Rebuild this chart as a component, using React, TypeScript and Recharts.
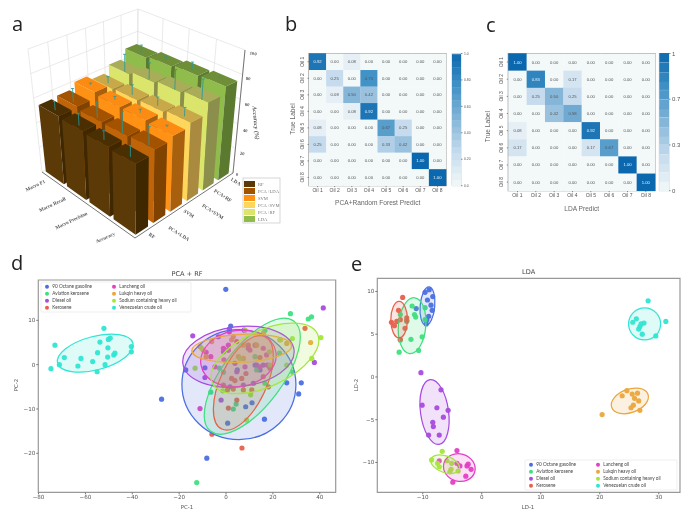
import { ReactNode } from 'react';
import { ReferenceArea, ReferenceLine, Scatter, ScatterChart, XAxis, YAxis } from 'recharts';

type Pt = [number, number];
type Ell = { x: number; y: number; rx: number; ry: number; angle: number };

const W = 690;
const H = 522;

// panel a
const metricNames = ['Macro F1', 'Macro Recall', 'Macro Precision', 'Accuracy'];
const methodNames = ['RF', 'PCA+LDA', 'SVM', 'PCA+SVM', 'PCA+RF', 'LDA'];
const rfScores = [54, 53, 52, 51];
const pcaLdaScores = [55, 53, 53, 54];
const svmScores = [60, 58, 58, 57];
const pcaSvmScores = [56, 57, 58, 60];
const pcaRfScores = [62, 65, 67, 69];
const ldaScores = [70, 72, 74, 75];
const rfErrors = [5, 7, 5, 6];
const pcaLdaErrors = [8, 9, 12, 10];
const svmErrors = [1, 2, 2, 1];
const pcaSvmErrors = [4, 6, 5, 5];
const pcaRfErrors = [11, 10, 12, 12];
const ldaErrors = [5, 2, 5, 1];
const accuracyTicks = [0, 20, 40, 60, 80, 100];

const allScores = [rfScores, pcaLdaScores, svmScores, pcaSvmScores, pcaRfScores, ldaScores];
const allErrors = [rfErrors, pcaLdaErrors, svmErrors, pcaSvmErrors, pcaRfErrors, ldaErrors];

// left, right, top faces
const BAR_COLORS = [
  ['#5c3a08', '#3f2700', '#4a2f02'],
  ['#bf6408', '#7f4200', '#a35300'],
  ['#ff9214', '#a8600f', '#fb8b12'],
  ['#ffd65c', '#a98a3e', '#c9a84a'],
  ['#dbe56c', '#8c8f4c', '#a9ac58'],
  ['#8fbc4a', '#5b7a2f', '#6f8e38'],
];

// panels b, c
const oilLabels = ['Oil 1', 'Oil 2', 'Oil 3', 'Oil 4', 'Oil 5', 'Oil 6', 'Oil 7', 'Oil 8'];
const pcaRfMatrix = [
  [0.92, 0, 0.08, 0, 0, 0, 0, 0],
  [0, 0.25, 0, 0.75, 0, 0, 0, 0],
  [0, 0.08, 0.5, 0.42, 0, 0, 0, 0],
  [0, 0, 0.08, 0.92, 0, 0, 0, 0],
  [0.08, 0, 0, 0, 0.67, 0.25, 0, 0],
  [0.25, 0, 0, 0, 0.33, 0.42, 0, 0],
  [0, 0, 0, 0, 0, 0, 1, 0],
  [0, 0, 0, 0, 0, 0, 0, 1],
];
const ldaMatrix = [
  [1, 0, 0, 0, 0, 0, 0, 0],
  [0, 0.83, 0, 0.17, 0, 0, 0, 0],
  [0, 0.25, 0.5, 0.25, 0, 0, 0, 0],
  [0, 0, 0.42, 0.58, 0, 0, 0, 0],
  [0.08, 0, 0, 0, 0.92, 0, 0, 0],
  [0.17, 0, 0, 0, 0.17, 0.67, 0, 0],
  [0, 0, 0, 0, 0, 0, 1, 0],
  [0, 0, 0, 0, 0, 0, 0, 1],
];
const barLevelsB = [0.02, 0.07, 0.12, 0.17, 0.22, 0.27, 0.32, 0.37, 0.42, 0.47, 0.52, 0.57, 0.62, 0.67, 0.72, 0.77, 0.82, 0.87, 0.92, 0.97];
const barLevelsC = [0.03, 0.1, 0.17, 0.23, 0.3, 0.37, 0.43, 0.5, 0.57, 0.63, 0.7, 0.77, 0.83, 0.9, 0.97];

// panels d, e
const classNames = ['90 Octane gasoline', 'Aviation kerosene', 'Diesel oil', 'Kerosene', 'Lancheng oil', 'Lukqin heavy oil', 'Sodium containing heavy oil', 'Venezuelan crude oil'];
const CLASS_COLORS = ['#4a6fe3', '#3fe07f', '#a94be0', '#e8604c', '#e43fc6', '#eba63c', '#a5e63c', '#2fe6d2'];

const pcaGasoline: Pt[] = [[-0.1, 17], [2, 8.7], [-17.2, -1.2], [-9, -0.7], [-27.5, -7.8], [0.7, -13.2], [8.4, -9.5], [11.1, -8.6], [16.4, -12.3], [-8.2, -21.1], [25.9, -4.1], [32.1, -4.1], [31, -6.6], [4.8, -1.2], [11.7, -4.2], [14.5, -1.2], [12.4, -0.1], [1.7, -5]];
const pcaAviation: Pt[] = [[-12.5, -26.6], [27.5, 11.5], [36.5, 10.8], [35.1, 10.3], [-6.5, -6.2], [4.3, -8.9], [3.1, -10], [16.6, -4.2], [28.5, -1.7], [16.6, 7.7], [-2.8, -0.8], [-1.1, -1.7], [13.1, -1.2], [12.4, 1.8], [22.8, 2.6]];
const pcaDiesel: Pt[] = [[-14.2, 6.5], [41.5, 12.8], [37.7, 0.5], [-9, -2.9], [-2.1, -8], [-3.3, 6.3], [1.4, 8], [7.7, 7.8], [1, 3.3], [-1.1, 2.9], [13.1, -0.1], [4.6, -1.6], [15.9, -0.1], [7.4, -4.6]];
const pcaKerosene: Pt[] = [[6.8, -18.8], [-6, -15.7], [33.7, 8.2], [1, -9.8], [4.6, -8], [18.1, -5], [2.4, -3.1], [3.8, -3.6], [6.7, -3.1], [7.4, -5.7], [11, -5.7], [8.5, -2], [15.9, -2.7], [14.5, 1.6], [12.4, 4.4], [4.6, 5.2], [9.5, 4.4], [0.6, -5.7], [3.1, -5.5], [18.8, -0.8], [-1.1, -4.6]];
const pcaLancheng: Pt[] = [[-11.1, -9.9], [1.4, 7.4], [-1.1, 3.7], [9.5, 3.7], [10.2, 3.3], [15.9, 3.7], [17.3, 2.2], [-6.5, 1.8], [-8.5, 2.8], [-0.9, 1.1], [1, 3.3], [14.5, -0.5], [8.1, -0.5], [3.8, 0.3], [-4.7, -0.5], [17.6, -0.1], [12.8, 4.4], [1, 4.4]];
const pcaLukqin: Pt[] = [[36.1, 5], [-9.7, 3.3], [-11.1, 4.1], [-8.5, 1.8], [-6.1, 5.2], [2.4, 5.6], [7.4, 4.4], [13.1, 4.4], [23, 5.6], [25.9, 4.8], [5.3, 1.8], [7.4, 1.4], [15.9, 7.1], [3.1, 6.3]];
const pcaSodium: Pt[] = [[40.5, 6.1], [36.6, 1.4], [-13.2, -0.8], [8.8, -12.5], [28.3, 5.9], [23.3, 5.6], [10.5, -6.8], [-1.4, -5.9], [25.9, -0.1], [18.8, -0.1], [-10.4, 3.7], [6, 1.4], [18.5, 2.9], [8.1, 7.8]];
const pcaVenezuelan: Pt[] = [[-74.7, -0.9], [-73, 4.4], [-71.1, 0], [-69, 1.6], [-63.2, -0.3], [-61.9, 1.4], [-56.9, 0.7], [-55, -1.6], [-54.8, 2.7], [-53.8, 5.1], [-52.1, 8.2], [-51.6, 0], [-50.5, 1.7], [-50.4, 3.8], [-50.2, 5.7], [-49.4, 6], [-47.9, 2.2], [-47.4, 2.6], [-40.4, 4.1], [-40.4, 2.9]];

const ldaGasoline: Pt[] = [[-9.6, 9.9], [-8.9, 10.2], [-8.3, 9.4], [-9.2, 9], [-8.6, 8.4], [-8.4, 7.8], [-9, 7.1], [-9.3, 6.7], [-9.4, 6.2], [-11.1, 8]];
const ldaAviation: Pt[] = [[-11.8, 8.3], [-11.4, 7.3], [-11.2, 7], [-9.6, 8.1], [-10.1, 4.7], [-12, 4.4], [-10.7, 3.1], [-14, 2.9], [-13.8, 7.3], [-12.7, 6.5], [-13.8, 4.3], [-9.6, 6.7]];
const ldaDiesel: Pt[] = [[-10.3, 0.5], [-6.9, -1.5], [-10.1, -3.3], [-7.6, -3.6], [-5.7, -3.9], [-6.5, -4.7], [-8.3, -5.3], [-8.2, -5.8], [-9, -6.8], [-7.2, -6.8]];
const ldaKerosene: Pt[] = [[-13.4, 9.3], [-14.1, 7.8], [-15.3, 6.4], [-14.8, 6], [-14.4, 6.5], [-13.8, 6.7], [-12.7, 6.9], [-12.7, 6.6], [-13, 5.7], [-13.8, 4.4]];
const ldaLancheng: Pt[] = [[-4.2, -8.6], [-7.2, -9.8], [-2.5, -10.4], [-2.3, -10.2], [-3.7, -10.4], [-1.8, -10.8], [-2.7, -11.6], [-4.9, -12.3], [-4.2, -10.1]];
const ldaLukqin: Pt[] = [[20.4, -4.4], [24.6, -1.6], [23.8, -2.2], [25.5, -2], [26.4, -1.9], [25.9, -2.5], [26.6, -2.8], [25.7, -3.3], [25.3, -3.6], [26.8, -3.9]];
const ldaSodium: Pt[] = [[-6.7, -8.7], [-8.5, -9.7], [-7.5, -10.1], [-7.2, -10.5], [-5.9, -9.8], [-5.1, -10.1], [-5.2, -10.8], [-4, -11], [-5.4, -11.1]];
const ldaVenezuelan: Pt[] = [[28.2, 8.9], [31.2, 6.5], [29.5, 4.8], [27.2, 5], [25.6, 6.4], [26.2, 6.8], [27.5, 6.3], [27, 6.2], [26.6, 5.6], [26.8, 5.9]];

const pcaPoints = [pcaGasoline, pcaAviation, pcaDiesel, pcaKerosene, pcaLancheng, pcaLukqin, pcaSodium, pcaVenezuelan];
const ldaPoints = [ldaGasoline, ldaAviation, ldaDiesel, ldaKerosene, ldaLancheng, ldaLukqin, ldaSodium, ldaVenezuelan];

const pcaEllipses: Ell[] = [
  { x: 5.5, y: -4.5, rx: 57, ry: 55, angle: 0 },
  { x: 11.2, y: -2.6, rx: 69, ry: 30, angle: -53 },
  { x: 5.3, y: 1.8, rx: 56, ry: 30, angle: -7 },
  { x: 7.4, y: -4.1, rx: 51, ry: 23, angle: -65 },
  { x: 5.3, y: 1.4, rx: 38, ry: 28, angle: -10 },
  { x: 6.7, y: 3.7, rx: 50, ry: 14, angle: -3 },
  { x: 16.6, y: 1.4, rx: 58, ry: 28, angle: -25 },
  { x: -55.8, y: 2.6, rx: 39, ry: 16.7, angle: -15 },
];
const ldaEllipses: Ell[] = [
  { x: -9.2, y: 8.3, rx: 19.3, ry: 7.3, angle: -85 },
  { x: -11.8, y: 6, rx: 28, ry: 13.7, angle: -85 },
  { x: -8, y: -4.1, rx: 32.7, ry: 14, angle: 82 },
  { x: -14, y: 6.7, rx: 18.3, ry: 8.3, angle: -90 },
  { x: -3.8, y: -10.6, rx: 16, ry: 13.7, angle: 15 },
  { x: 25.1, y: -2.8, rx: 19.3, ry: 11.7, angle: -20 },
  { x: -6.2, y: -10.2, rx: 15, ry: 8.3, angle: 20 },
  { x: 27.6, y: 6.2, rx: 16, ry: 16, angle: 0 },
];

// ---- 3D box projection for panel a: floor and ceiling quads of the cube on screen
type Quad = { F: Pt; L: Pt; R: Pt; B: Pt };
const FLOOR: Quad = { F: [135, 238], L: [42, 172], R: [233, 173], B: [137, 120] };
const CEIL: Quad = { F: [135, 98], L: [28, 49], R: [245, 50], B: [138, 9] };

function homography(q: Quad, u: number, v: number): Pt {
  const dx1 = q.L[0] - q.B[0];
  const dx2 = q.R[0] - q.B[0];
  const dy1 = q.L[1] - q.B[1];
  const dy2 = q.R[1] - q.B[1];
  const sx = q.F[0] - q.L[0] + q.B[0] - q.R[0];
  const sy = q.F[1] - q.L[1] + q.B[1] - q.R[1];
  const den = dx1 * dy2 - dx2 * dy1;
  const g = (sx * dy2 - dx2 * sy) / den;
  const h = (dx1 * sy - sx * dy1) / den;
  const w = g * u + h * v + 1;
  return [
    ((q.L[0] - q.F[0] + g * q.L[0]) * u + (q.R[0] - q.F[0] + h * q.R[0]) * v + q.F[0]) / w,
    ((q.L[1] - q.F[1] + g * q.L[1]) * u + (q.R[1] - q.F[1] + h * q.R[1]) * v + q.F[1]) / w,
  ];
}

function project(u: number, v: number, value: number): Pt {
  const a = homography(FLOOR, u, v);
  const b = homography(CEIL, u, v);
  const t = value / 100;
  return [a[0] + (b[0] - a[0]) * t, a[1] + (b[1] - a[1]) * t];
}

type BarDatum = { x: number; y: number; metric: number; method: number; value: number; err: number; depth: number };

const barData: BarDatum[] = allScores
  .flatMap((row, method) =>
    row.map((value, metric) => {
      const u = (3 - metric + 0.08) / 4;
      const v = (method + 0.15) / 6;
      const [x, y] = project(u, v, 0);
      return { x, y, metric, method, value, err: allErrors[method][metric], depth: u + v };
    }),
  )
  .sort((p, q) => q.depth - p.depth);

function Bar3D(props: any) {
  const d: BarDatum = props.payload;
  const u0 = (3 - d.metric + 0.08) / 4;
  const u1 = (3 - d.metric + 0.94) / 4;
  const v0 = (d.method + 0.15) / 6;
  const v1 = (d.method + 0.85) / 6;
  const ox = props.cx - d.x;
  const oy = props.cy - d.y;
  const pts = (list: Pt[]) => list.map((p) => `${p[0] + ox},${p[1] + oy}`).join(' ');
  const [cLeft, cRight, cTop] = BAR_COLORS[d.method];
  const f0 = project(u0, v0, 0);
  const l0 = project(u1, v0, 0);
  const r0 = project(u0, v1, 0);
  const f1 = project(u0, v0, d.value);
  const l1 = project(u1, v0, d.value);
  const r1 = project(u0, v1, d.value);
  const b1 = project(u1, v1, d.value);
  const um = (u0 + u1) / 2;
  const vm = (v0 + v1) / 2;
  const eTop = project(um, vm, d.value + d.err);
  const eBot = project(um, vm, d.value - d.err * 0.4);
  return (
    <g>
      <polygon points={pts([f0, l0, l1, f1])} fill={cLeft} />
      <polygon points={pts([f0, r0, r1, f1])} fill={cRight} />
      <polygon points={pts([f1, l1, b1, r1])} fill={cTop} />
      <line x1={eTop[0] + ox} y1={eTop[1] + oy} x2={eBot[0] + ox} y2={eBot[1] + oy} stroke="#1f9aa0" strokeWidth={0.8} />
      <line x1={eTop[0] + ox - 1.6} y1={eTop[1] + oy} x2={eTop[0] + ox + 1.6} y2={eTop[1] + oy} stroke="#1f9aa0" strokeWidth={0.8} />
    </g>
  );
}

function Overlay({ children }: { children: ReactNode }) {
  return <div style={{ position: 'absolute', left: 0, top: 0, width: W, height: H }}>{children}</div>;
}

function BarsPanel() {
  const wall = (p: Pt, q: Pt, key: string, stroke = '#dcdcdc', width = 0.6) => (
    <ReferenceLine
      key={key}
      segment={[{ x: p[0], y: p[1] }, { x: q[0], y: q[1] }]}
      stroke={stroke}
      strokeWidth={width}
      ifOverflow="visible"
    />
  );
  const lines: ReactNode[] = [];
  accuracyTicks.forEach((t) => {
    lines.push(wall(project(1, 0, t), project(1, 1, t), `l${t}`));
    lines.push(wall(project(1, 1, t), project(0, 1, t), `r${t}`));
  });
  [0, 0.25, 0.5, 0.75, 1].forEach((u) => {
    lines.push(wall(project(u, 1, 0), project(u, 1, 100), `u${u}`));
  });
  [0, 1, 2, 3, 4, 5, 6].forEach((m) => {
    lines.push(wall(project(1, m / 6, 0), project(1, m / 6, 100), `v${m}`));
  });

  const serif = { fontFamily: '"Liberation Serif", serif', fontWeight: 700, fill: '#555' };
  const metricLabelPos: Pt[] = [[36, 187], [53, 206], [72, 222], [106, 239]];
  const methodLabelPos: Pt[] = [[151, 237], [178, 235], [188, 215], [212, 213], [222, 197], [235, 183]];
  const accuracyTickPos: Pt[] = [[237, 176], [242, 155], [245, 132], [247, 106], [248, 80], [253, 55]];

  return (
    <Overlay>
      <ScatterChart width={W} height={H} margin={{ top: 0, right: 0, bottom: 0, left: 0 }}>
        <XAxis type="number" dataKey="x" domain={[0, W]} hide />
        <YAxis type="number" dataKey="y" domain={[0, H]} reversed hide />
        {lines}
        {wall(project(0, 0, 0), project(1, 0, 0), 'edge1', '#666', 0.9)}
        {wall(project(0, 0, 0), project(0, 1, 0), 'edge2', '#666', 0.9)}
        {wall(project(0, 1, 0), project(0, 1, 100), 'edge3', '#666', 0.9)}
        <Scatter data={barData} shape={Bar3D} isAnimationActive={false} />
        {metricNames.map((name, i) => (
          <text key={name} {...serif} fontSize={5} textAnchor="middle" transform={`translate(${metricLabelPos[i][0]} ${metricLabelPos[i][1]}) rotate(-25)`}>
            {name}
          </text>
        ))}
        {methodNames.map((name, i) => (
          <text key={name} {...serif} fontSize={5} textAnchor="middle" transform={`translate(${methodLabelPos[i][0]} ${methodLabelPos[i][1]}) rotate(32)`}>
            {name}
          </text>
        ))}
        {accuracyTicks.map((t, i) => (
          <text key={t} {...serif} fontSize={4.6} textAnchor="middle" transform={`translate(${accuracyTickPos[i][0]} ${accuracyTickPos[i][1]}) rotate(8)`}>
            {t}
          </text>
        ))}
        <text {...serif} fontStyle="italic" fontSize={6} textAnchor="middle" transform="translate(254 123) rotate(85)">
          Accuracy (%)
        </text>
        <rect x={243} y={178} width={37} height={45} fill="#fff" stroke="#ccc" strokeWidth={0.8} />
        {methodNames.map((name, i) => (
          <g key={name}>
            <rect x={244} y={181 + i * 7} width={11} height={6} fill={BAR_COLORS[i][i === 1 ? 2 : 0]} />
            <text x={258} y={186 + i * 7} fontFamily='"Liberation Serif", serif' fill="#777" fontSize={4.6}>
              {name}
            </text>
          </g>
        ))}
      </ScatterChart>
    </Overlay>
  );
}

// ---- confusion matrices
const BLUE_STOPS: [number, number[]][] = [
  [0, [243, 248, 248]],
  [0.25, [198, 220, 238]],
  [0.5, [133, 182, 216]],
  [0.75, [66, 146, 198]],
  [1, [11, 104, 174]],
];
function blue(t: number) {
  for (let i = 1; i < BLUE_STOPS.length; i++) {
    if (t <= BLUE_STOPS[i][0]) {
      const [t0, c0] = BLUE_STOPS[i - 1];
      const [t1, c1] = BLUE_STOPS[i];
      const f = (t - t0) / (t1 - t0);
      const c = c0.map((v, k) => Math.round(v + (c1[k] - v) * f));
      return `rgb(${c.join(',')})`;
    }
  }
  return 'rgb(11,104,174)';
}

type Box = { l: number; r: number; t: number; b: number };
const AXIS_ROOM = 30;

function marginFor(box: Box) {
  return { left: box.l - AXIS_ROOM, right: W - box.r, top: box.t, bottom: H - box.b - AXIS_ROOM };
}

function Matrix({ matrix, box, xTitle, xTitleAt, yTitleAt }: { matrix: number[][]; box: Box; xTitle: string; xTitleAt: Pt; yTitleAt: Pt }) {
  const cw = (box.r - box.l) / 8;
  const ch = (box.b - box.t) / 8;
  const cells = matrix.flatMap((row, r) => row.map((value, c) => ({ x: c + 1, y: r + 1, value })));
  const idx = [1, 2, 3, 4, 5, 6, 7, 8];
  const Cell = (p: any) => (
    <g>
      <rect x={p.cx - cw / 2} y={p.cy - ch / 2} width={cw + 0.3} height={ch + 0.3} fill={blue(p.payload.value)} />
      <text x={p.cx} y={p.cy + 1.5} fontSize={4.2} textAnchor="middle" fontFamily="Liberation Sans" fill={p.payload.value > 0.75 ? '#e8f2f8' : '#555'}>
        {p.payload.value.toFixed(2)}
      </text>
    </g>
  );
  const YTick = ({ x, y, payload }: any) => (
    <text transform={`translate(${x} ${y}) rotate(-90)`} fontSize={5} textAnchor="middle" fill="#555" fontFamily="Liberation Sans">
      {oilLabels[payload.value - 1]}
    </text>
  );
  return (
    <Overlay>
      <ScatterChart width={W} height={H} margin={marginFor(box)}>
        <XAxis type="number" dataKey="x" domain={[0.5, 8.5]} ticks={idx} interval={0} height={AXIS_ROOM} tickFormatter={(v: number) => oilLabels[v - 1]} tick={{ fontSize: 5, fill: '#555', fontFamily: 'Liberation Sans' }} tickSize={1.5} tickMargin={1.5} stroke="#888" axisLine={false} />
        <YAxis type="number" dataKey="y" domain={[0.5, 8.5]} ticks={idx} interval={0} width={AXIS_ROOM} reversed tick={<YTick />} tickSize={1.5} tickMargin={4} stroke="#888" axisLine={false} />
        <Scatter data={cells} shape={Cell} isAnimationActive={false} />
        <ReferenceArea x1={0.5} x2={8.5} y1={0.5} y2={8.5} fill="none" stroke="#8f8f8f" strokeWidth={1.2} ifOverflow="visible" />
        <text x={xTitleAt[0]} y={xTitleAt[1]} fontSize={6.6} textAnchor="middle" fill="#666" fontFamily="Liberation Sans">
          {xTitle}
        </text>
        <text transform={`translate(${yTitleAt[0]} ${yTitleAt[1]}) rotate(-90)`} fontSize={6.6} textAnchor="middle" fill="#666" fontFamily="Liberation Sans">
          True Label
        </text>
      </ScatterChart>
    </Overlay>
  );
}

function Colorbar({ box, levels, ticks, labels, fontSize }: { box: Box; levels: number[]; ticks: number[]; labels: string[]; fontSize: number }) {
  const h = (box.b - box.t) / levels.length;
  const w = box.r - box.l;
  const data = levels.map((y) => ({ x: 0, y }));
  const Swatch = (p: any) => <rect x={p.cx - w / 2} y={p.cy - h / 2} width={w} height={h + 0.3} fill={blue(p.payload.y)} />;
  return (
    <Overlay>
      <ScatterChart width={W} height={H} margin={{ left: box.l, right: W - box.r - AXIS_ROOM, top: box.t, bottom: H - box.b }}>
        <XAxis type="number" dataKey="x" domain={[-1, 1]} hide />
        <YAxis type="number" dataKey="y" orientation="right" domain={[0, 1]} ticks={ticks} interval={0} width={AXIS_ROOM} tickFormatter={(v: number) => labels[ticks.indexOf(v)]} tick={{ fontSize, fill: '#555', fontFamily: 'Liberation Sans' }} tickSize={1.5} tickMargin={1.5} stroke="#888" axisLine={false} />
        <Scatter data={data} shape={Swatch} isAnimationActive={false} />
        <ReferenceArea x1={-1} x2={1} y1={0} y2={1} fill="none" stroke="#bbb" strokeWidth={0.7} ifOverflow="visible" />
      </ScatterChart>
    </Overlay>
  );
}

// ---- score plots
function ClusterLegend({ x, y, w, h }: { x: number; y: number; w: number; h: number }) {
  return (
    <g>
      <rect x={x} y={y} width={w} height={h} fill="#fff" fillOpacity={0.85} stroke="#ddd" strokeWidth={0.5} rx={1} />
      {classNames.map((name, i) => {
        const cx = x + (i < 4 ? 6 : 73);
        const cy = y + 4.7 + (i % 4) * 7;
        return (
          <g key={name}>
            <circle cx={cx} cy={cy} r={2} fill={CLASS_COLORS[i]} />
            <text x={cx + 5.3} y={cy + 1.7} fontSize={4.7} fill="#444" fontFamily="Lato">
              {name}
            </text>
          </g>
        );
      })}
    </g>
  );
}

function ScorePlot(props: {
  box: Box;
  xDomain: [number, number];
  yDomain: [number, number];
  xTicks: number[];
  yTicks: number[];
  points: Pt[][];
  ellipses: Ell[];
  title: string;
  titleAt: Pt;
  xTitle: string;
  xTitleAt: Pt;
  yTitle: string;
  yTitleAt: Pt;
  legendAt: [number, number, number, number];
}) {
  const { box, xDomain, yDomain, points, ellipses } = props;
  const minus = (v: number) => String(v).replace('-', '\u2212');
  const tick = { fontSize: 5.6, fill: '#555', fontFamily: 'DejaVu Sans' };
  const EllipseShape = (color: string, e: Ell) => (p: any) => (
    <ellipse
      cx={p.cx}
      cy={p.cy}
      rx={e.rx}
      ry={e.ry}
      transform={`rotate(${e.angle} ${p.cx} ${p.cy})`}
      fill={color}
      fillOpacity={0.16}
      stroke={color}
      strokeWidth={1.25}
    />
  );
  return (
    <Overlay>
      <ScatterChart width={W} height={H} margin={marginFor(box)}>
        <XAxis type="number" dataKey="x" domain={xDomain} ticks={props.xTicks} interval={0} height={AXIS_ROOM} tickFormatter={minus} tick={tick} tickSize={2} tickMargin={1} stroke="#777" axisLine={false} allowDataOverflow />
        <YAxis type="number" dataKey="y" domain={yDomain} ticks={props.yTicks} interval={0} width={AXIS_ROOM} tickFormatter={minus} tick={tick} tickSize={2} tickMargin={1} stroke="#777" axisLine={false} allowDataOverflow />
        {points.map((pts, i) => (
          <Scatter
            key={classNames[i]}
            data={pts.map(([x, y]) => ({ x, y }))}
            fill={CLASS_COLORS[i]}
            isAnimationActive={false}
            shape={(p: any) => <circle cx={p.cx} cy={p.cy} r={2.6} fill={CLASS_COLORS[i]} fillOpacity={0.95} />}
          />
        ))}
        {ellipses.map((e, i) => (
          <Scatter key={`e${i}`} data={[{ x: e.x, y: e.y }]} isAnimationActive={false} shape={EllipseShape(CLASS_COLORS[i], e)} />
        ))}
        <ReferenceArea x1={xDomain[0]} x2={xDomain[1]} y1={yDomain[0]} y2={yDomain[1]} fill="none" stroke="#999" strokeWidth={1.2} ifOverflow="visible" />
        <ClusterLegend x={props.legendAt[0]} y={props.legendAt[1]} w={props.legendAt[2]} h={props.legendAt[3]} />
        <text x={props.titleAt[0]} y={props.titleAt[1]} fontSize={6.6} textAnchor="middle" fill="#444" fontFamily="DejaVu Sans">
          {props.title}
        </text>
        <text x={props.xTitleAt[0]} y={props.xTitleAt[1]} fontSize={5.4} textAnchor="middle" fill="#555" fontFamily="DejaVu Sans">
          {props.xTitle}
        </text>
        <text transform={`translate(${props.yTitleAt[0]} ${props.yTitleAt[1]}) rotate(-90)`} fontSize={5.4} textAnchor="middle" fill="#555" fontFamily="DejaVu Sans">
          {props.yTitle}
        </text>
      </ScatterChart>
    </Overlay>
  );
}

const panelLetters: [string, number, number][] = [
  ['a', 12, 33],
  ['b', 285, 33],
  ['c', 486, 34],
  ['d', 11, 272],
  ['e', 351, 273],
];

export default function App() {
  return (
    <div style={{ position: 'absolute', left: 0, top: 0, width: W, height: H, background: '#fff', overflow: 'hidden', filter: 'blur(0.4px)' }}>
      <BarsPanel />
      <Matrix matrix={pcaRfMatrix} box={{ l: 309, r: 446, t: 53.5, b: 185.7 }} xTitle="PCA+Random Forest Predict" xTitleAt={[377.7, 205]} yTitleAt={[295, 119]} />
      <Colorbar box={{ l: 452, r: 461, t: 53.5, b: 185.7 }} levels={barLevelsB} ticks={[0, 0.2, 0.4, 0.6, 0.8, 1]} labels={['0.0', '0.20', '0.40', '0.60', '0.80', '1.0']} fontSize={3.4} />
      <Matrix matrix={ldaMatrix} box={{ l: 508.3, r: 655, t: 53.5, b: 190.7 }} xTitle="LDA Predict" xTitleAt={[581.7, 210.5]} yTitleAt={[490, 126.7]} />
      <Colorbar box={{ l: 659.3, r: 669, t: 53.5, b: 190.7 }} levels={barLevelsC} ticks={[0, 0.3333, 0.6667, 1]} labels={['0', '0.3', '0.7', '1']} fontSize={6} />
      <ScorePlot
        box={{ l: 38.3, r: 335.7, t: 280, b: 492.3 }}
        xDomain={[-80.1, 46.8]}
        yDomain={[-28.8, 19.1]}
        xTicks={[-80, -60, -40, -20, 0, 20, 40]}
        yTicks={[-20, -10, 0, 10]}
        points={pcaPoints}
        ellipses={pcaEllipses}
        title="PCA + RF"
        titleAt={[187, 276]}
        xTitle="PC-1"
        xTitleAt={[187, 509]}
        yTitle="PC-2"
        yTitleAt={[17.5, 385]}
        legendAt={[41, 282, 150, 30]}
      />
      <ScorePlot
        box={{ l: 377.3, r: 680, t: 278.3, b: 492.3 }}
        xDomain={[-17.7, 33.6]}
        yDomain={[-13.49, 11.54]}
        xTicks={[-10, 0, 10, 20, 30]}
        yTicks={[-10, -5, 0, 5, 10]}
        points={ldaPoints}
        ellipses={ldaEllipses}
        title="LDA"
        titleAt={[528.7, 274]}
        xTitle="LD-1"
        xTitleAt={[528, 509]}
        yTitle="LD-2"
        yTitleAt={[358, 385]}
        legendAt={[525, 460, 152, 30]}
      />
      {panelLetters.map(([letter, x, y]) => (
        <div key={letter} style={{ position: 'absolute', left: x, top: y - 22, fontFamily: '"Open Sans", sans-serif', fontSize: 20, lineHeight: '26px', color: '#222' }}>
          {letter}
        </div>
      ))}
    </div>
  );
}
